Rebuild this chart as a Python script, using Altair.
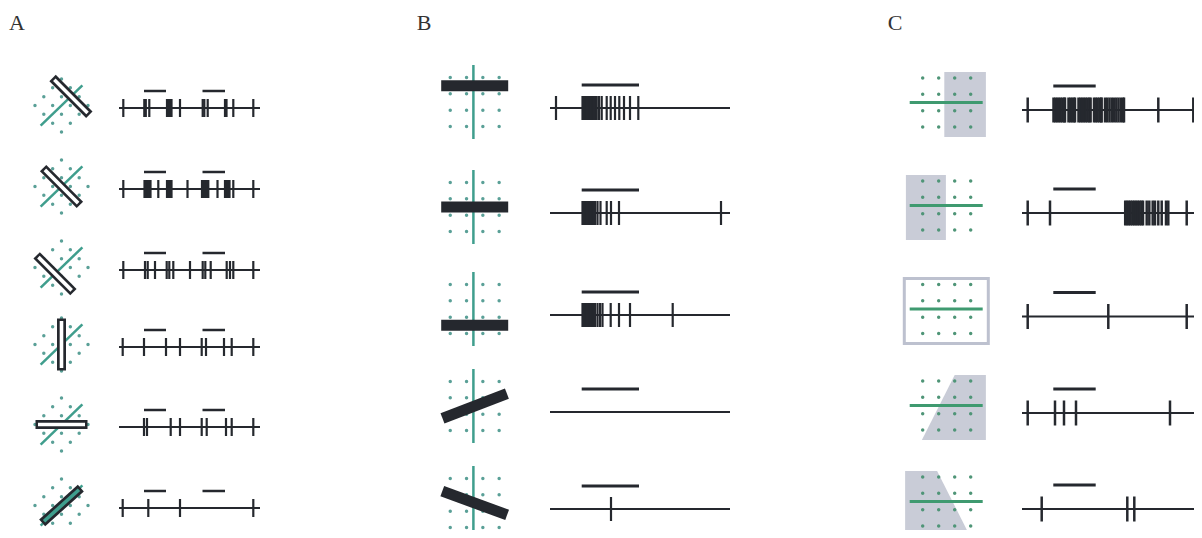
import math
import altair as alt
import pandas as pd

# ---------------- data ----------------
PANEL_LABELS = ["A", "B", "C"]

# spike times (ms from the start of each trace), one list per trace
A_SPIKES = [
    [43, 253, 268, 303, 480, 495, 510, 525, 610, 837, 853, 887, 1060, 1075, 1143, 1343],
    [43, 255, 270, 285, 300, 315, 393, 480, 495, 510, 525, 685, 830, 845, 860, 880, 893,
     985, 1060, 1075, 1090, 1105, 1143, 1343],
    [43, 260, 287, 360, 477, 503, 543, 710, 837, 863, 917, 1077, 1110, 1143, 1343],
    [37, 250, 470, 610, 827, 870, 1050, 1127, 1343],
    [250, 280, 517, 610, 827, 877, 1070, 1127, 1343],
    [37, 293, 610, 1343],
]
A_STIM = [(250, 470), (835, 1060)]          # stimulus on/off (ms)
A_DURATION = 1410
A_RF_ANGLE = 44                              # receptive-field axis (deg)
A_BAR_ANGLE = [-45, -45, -45, 90, 0, 42]     # bar orientation (deg)
A_BAR_SHIFT = [1.05, 0.0, -0.72, 0.0, 0.0, 0.0]  # along RF axis, grid units

B_SPIKES = [
    [60, 325, 339, 353, 367, 381, 395, 409, 423, 437, 451, 467, 490, 517,
     567, 607, 650, 693, 740, 800, 883],
    [325, 339, 353, 367, 381, 395, 409, 423, 437, 451, 475, 505, 567, 610, 690, 1710],
    [325, 339, 353, 367, 381, 395, 409, 423, 437, 450, 475, 500, 525, 607, 690, 800, 1227],
    [],
    [610],
]
B_STIM = [(317, 890)]
B_DURATION = 1800
B_BAR_ANGLE = [0, 0, 0, 21, -20]
B_BAR_SHIFT = [-1.0, 0.0, 1.0, 0.0, 0.0]     # vertical, grid units

C_SPIKES = [
    [57, 315, 333, 351, 369, 387, 405, 423, 430, 465, 483, 501, 519, 530, 565, 583, 601,
     619, 637, 655, 673, 686, 720, 738, 756, 774, 792, 796, 830, 852, 875, 898, 920, 943,
     965, 988, 1010, 1020, 1363, 1713],
    [57, 280, 1032, 1050, 1068, 1086, 1104, 1122, 1140, 1158, 1176, 1194, 1210, 1247,
     1273, 1307, 1330, 1363, 1397, 1440, 1463, 1647],
    [57, 863, 1647],
    [57, 330, 420, 540, 1480],
    [197, 1053, 1123],
]
C_STIM = [(313, 737)]
C_DURATION = 1800
# light region: (kind, top-left x, top-right x, bottom-left x, bottom-right x) in grid units
C_LIGHT = [
    ("fill", -0.15, 2.45, -0.15, 2.45),
    ("fill", -2.55, -0.05, -2.55, -0.05),
    ("outline", -2.65, 2.6, -2.65, 2.6),
    ("fill", 0.5, 2.45, -1.55, 2.45),
    ("fill", -2.6, -0.6, -2.6, 1.45),
]
C_FIELD_TOP, C_FIELD_BOTTOM = -1.9, 2.15

# ---------------- layout / style ----------------
INK = "#25282e"
TEAL = "#3f9e8d"
TEAL_DOT = "#5aa097"
GREEN = "#3f9a70"
GREEN_DOT = "#4f9577"
GRAY = "#c9ccd7"
GRAY_EDGE = "#bdc1cf"

PANELS = {
    "A": dict(spikes=A_SPIKES, stim=A_STIM, dur=A_DURATION,
              rows=[108, 189, 270, 347, 427, 508], x0=119, k=0.1,
              tick=9, tw=2.2, gap=17, sw=2.5, label_x=17),
    "B": dict(spikes=B_SPIKES, stim=B_STIM, dur=B_DURATION,
              rows=[108, 213, 315, 412, 509], x0=550, k=0.1,
              tick=12, tw=2.2, gap=23, sw=3, label_x=424),
    "C": dict(spikes=C_SPIKES, stim=C_STIM, dur=C_DURATION,
              rows=[110, 213, 316.5, 413, 509], x0=1022, k=0.1,
              tick=12.5, tw=2.5, gap=24, sw=3, label_x=895),
}

XS = alt.Scale(domain=[8, 1194], nice=False, zero=False)
YS = alt.Scale(domain=[8, 530], nice=False, zero=False, reverse=True)


def X(f="x"):
    return alt.X(f"{f}:Q", scale=XS, axis=None)


def Y(f="y"):
    return alt.Y(f"{f}:Q", scale=YS, axis=None)


def d(angle):
    a = math.radians(angle)
    return math.cos(a), -math.sin(a)


# ---- traces ----
segs = []
ticks = []
for name, p in PANELS.items():
    for r, ry in enumerate(p["rows"]):
        segs.append(dict(x=p["x0"], y=ry, x2=p["x0"] + p["dur"] * p["k"], y2=ry, w=2, c=INK))
        for on, off in p["stim"]:
            sy = ry - p["gap"]
            segs.append(dict(x=p["x0"] + on * p["k"], y=sy, x2=p["x0"] + off * p["k"], y2=sy,
                             w=p["sw"], c=INK))
        for t in p["spikes"][r]:
            ticks.append(dict(x=p["x0"] + t * p["k"], y=ry - p["tick"], y2=ry + p["tick"], w=p["tw"]))

seg_df = pd.DataFrame(segs)
tick_df = pd.DataFrame(ticks)

# ---- icons ----
dots, greens, bars, areas, outlines = [], [], [], [], []

# Panel A
s = 12.5
ux, uy = d(A_RF_ANGLE)
for r, ry in enumerate(PANELS["A"]["rows"]):
    cx, cy = 61.5, ry - 2.5
    for i in range(4):
        for j in range(4):
            u, v = (i - 1.5) * s, (j - 1.5) * s
            a = math.radians(45)
            dots.append(dict(x=cx + u * math.cos(a) - v * math.sin(a),
                             y=cy - (u * math.sin(a) + v * math.cos(a)), c=TEAL_DOT))
    greens.append(dict(x=cx - 29 * ux, y=cy - 29 * uy, x2=cx + 29 * ux, y2=cy + 29 * uy,
                       w=2.5, c=TEAL))
    bx, by = cx + A_BAR_SHIFT[r] * s * ux, cy + A_BAR_SHIFT[r] * s * uy
    vx, vy = d(A_BAR_ANGLE[r])
    bars.append(dict(x=bx - 26 * vx, y=by - 26 * vy, x2=bx + 26 * vx, y2=by + 26 * vy,
                     w=9, c=INK, o=1))
    inner = TEAL if r == 5 else "white"
    bars.append(dict(x=bx - 23.5 * vx, y=by - 23.5 * vy, x2=bx + 23.5 * vx, y2=by + 23.5 * vy,
                     w=3.6, c=inner, o=2))

# Panel B
s = 16.3
for r, ry in enumerate(PANELS["B"]["rows"]):
    cx, cy = 474.7, ry - 6
    for i in range(4):
        for j in range(4):
            dots.append(dict(x=cx + (i - 1.5) * s, y=cy + (j - 1.5) * s, c=TEAL_DOT))
    greens.append(dict(x=cx - 1.3, y=cy - 37, x2=cx - 1.3, y2=cy + 37, w=2.5, c=TEAL))
    bx, by = cx, cy + B_BAR_SHIFT[r] * s
    vx, vy = d(B_BAR_ANGLE[r])
    hl = 33.5 if B_BAR_ANGLE[r] == 0 else 34.5
    bars.append(dict(x=bx - hl * vx, y=by - hl * vy, x2=bx + hl * vx, y2=by + hl * vy,
                     w=11, c=INK, o=1))

# Panel C
s = 16.3
sx = 16
for r, ry in enumerate(PANELS["C"]["rows"]):
    cx, cy = 946.7, ry - 7.5
    kind, tl, tr, bl, br = C_LIGHT[r]
    top, bot = cy + C_FIELD_TOP * sx, cy + C_FIELD_BOTTOM * sx
    if kind == "fill":
        areas.append(dict(g=r, y=top, x=cx + tl * sx, x2=cx + tr * sx))
        areas.append(dict(g=r, y=bot, x=cx + bl * sx, x2=cx + br * sx))
    else:
        outlines.append(dict(x=cx + tl * sx, x2=cx + tr * sx, y=top, y2=bot))
    for i in range(4):
        for j in range(4):
            dots.append(dict(x=cx + (i - 1.5) * sx, y=cy + (j - 1.5) * s, c=GREEN_DOT))
    greens.append(dict(x=cx - 37, y=cy, x2=cx + 36, y2=cy, w=3, c=GREEN))

dot_df = pd.DataFrame(dots)
green_df = pd.DataFrame(greens)
bar_df = pd.DataFrame(bars)
area_df = pd.DataFrame(areas)
out_df = pd.DataFrame(outlines)
label_df = pd.DataFrame(dict(text=PANEL_LABELS,
                             x=[PANELS[n]["label_x"] for n in PANEL_LABELS],
                             y=[30, 30, 30]))

# ---------------- chart ----------------
seg_layer = alt.Chart(seg_df).mark_rule(strokeCap="butt").encode(
    x=X(), y=Y(), x2="x2:Q", y2="y2:Q",
    color=alt.Color("c:N", scale=None),
    strokeWidth=alt.StrokeWidth("w:Q", scale=None))

tick_layer = alt.Chart(tick_df).mark_rule(strokeCap="butt", color=INK).encode(
    x=X(), y=Y(), y2="y2:Q",
    strokeWidth=alt.StrokeWidth("w:Q", scale=None))

area_layer = alt.Chart(area_df).mark_area(orient="horizontal", color=GRAY, opacity=1).encode(
    y=Y(), x=X(), x2="x2:Q", detail="g:N")

out_layer = alt.Chart(out_df).mark_rect(fill="white", stroke=GRAY_EDGE, strokeWidth=3).encode(
    x=X(), x2="x2:Q", y=Y(), y2="y2:Q")

dot_layer = alt.Chart(dot_df).mark_circle(size=12, opacity=1).encode(
    x=X(), y=Y(), color=alt.Color("c:N", scale=None))

green_layer = alt.Chart(green_df).mark_rule(strokeCap="butt").encode(
    x=X(), y=Y(), x2="x2:Q", y2="y2:Q",
    color=alt.Color("c:N", scale=None),
    strokeWidth=alt.StrokeWidth("w:Q", scale=None))

bar_outer = alt.Chart(bar_df[bar_df.o == 1]).mark_rule(strokeCap="butt").encode(
    x=X(), y=Y(), x2="x2:Q", y2="y2:Q",
    color=alt.Color("c:N", scale=None),
    strokeWidth=alt.StrokeWidth("w:Q", scale=None))

bar_inner = alt.Chart(bar_df[bar_df.o == 2]).mark_rule(strokeCap="butt").encode(
    x=X(), y=Y(), x2="x2:Q", y2="y2:Q",
    color=alt.Color("c:N", scale=None),
    strokeWidth=alt.StrokeWidth("w:Q", scale=None))

label_layer = alt.Chart(label_df).mark_text(
    font="Liberation Serif", fontSize=22, color="#333333", align="center",
    baseline="alphabetic").encode(x=X(), y=Y(), text="text:N")

chart = alt.layer(
    area_layer, out_layer, dot_layer, green_layer, bar_outer, bar_inner,
    seg_layer, tick_layer, label_layer
).properties(
    width=1186, height=522, padding=0,
    autosize=alt.AutoSizeParams(type="none"),
    background="white",
).configure_view(stroke=None)

chart.save("out.html", embed_options={"renderer": "svg", "actions": False})
